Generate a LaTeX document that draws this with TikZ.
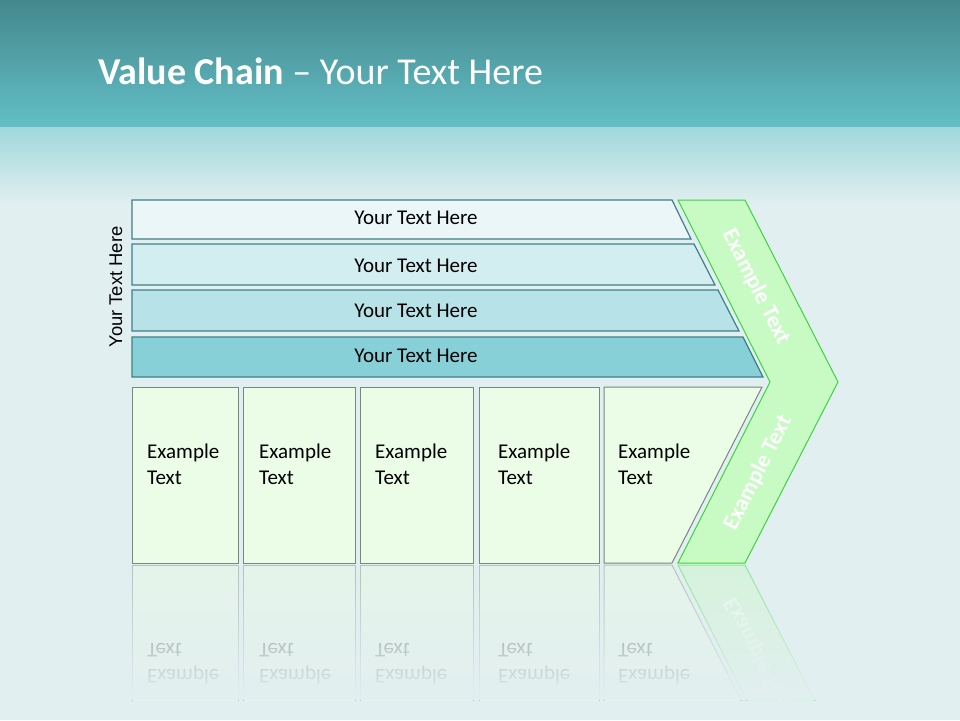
\documentclass[tikz,border=0pt]{standalone}
\usepackage{fontspec}
\setmainfont{Carlito}
\newfontfamily\arialf{Liberation Sans}
\usetikzlibrary{fadings}
\definecolor{bgA}{RGB}{68,136,140}
\definecolor{bgB}{RGB}{99,191,199}
\definecolor{bgC}{RGB}{160,216,220}
\definecolor{bgD}{RGB}{226,239,240}
\definecolor{barline}{RGB}{62,127,136}
\definecolor{barA}{RGB}{234,246,248}
\definecolor{barB}{RGB}{211,238,241}
\definecolor{barC}{RGB}{183,227,232}
\definecolor{barD}{RGB}{136,208,216}
\definecolor{boxfill}{RGB}{235,253,230}
\definecolor{boxline}{RGB}{122,134,128}
\definecolor{chevfill}{RGB}{200,250,196}
\definecolor{chevline}{RGB}{62,211,62}
\tikzfading[name=reflfade, top color=transparent!100, bottom color=transparent!0]
\newcommand\vcLowerPart[1]{%
  \draw[boxst] (132,387) rectangle (238,563);
  \draw[boxst] (243,387) rectangle (355,563);
  \draw[boxst] (360,387) rectangle (473,563);
  \draw[boxst] (479,387) rectangle (599,563);
  \draw[boxst] (604,387) -- (762,387) -- (672,563) -- (604,563) -- cycle;
  \node[boxtext] (#1b1) at (147,444) {Example\\Text};
  \node[boxtext] (#1b2) at (259,444) {Example\\Text};
  \node[boxtext] (#1b3) at (375,444) {Example\\Text};
  \node[boxtext] (#1b4) at (498,444) {Example\\Text};
  \node[boxtext] (#1b5) at (618,444) {Example\\Text};
  \draw[chevst] (678,200) -- (745,200) -- (838,382) -- (745,563) -- (678,563) -- (770,382) -- cycle;
  \node[chevtext, rotate=-63.2] (#1c1) at (756,287) {Example Text};
  \node[chevtext, rotate=63.2] (#1c2) at (758,473) {Example Text};
}
\begin{document}
\begin{tikzpicture}[x=1pt,y=-1pt,
  barst/.style={draw=barline, line width=1.2pt},
  boxst/.style={draw=boxline, fill=boxfill, line width=1pt},
  chevst/.style={draw=chevline, fill=chevfill, line width=1pt, line join=miter},
  bartext/.style={font=\fontsize{21}{25}\selectfont, text=black, inner sep=0pt},
  boxtext/.style={font=\fontsize{21}{26}\selectfont, text=black, align=left, anchor=north west, inner sep=0pt},
  chevtext/.style={font=\bfseries\fontsize{23}{27}\selectfont, text=white, inner sep=0pt}]
\useasboundingbox (0,0) rectangle (960,720);
% background
\shade[top color=bgA, bottom color=bgB] (0,0) rectangle (960,128);
\shade[top color=bgC, bottom color=bgD] (0,127.5) rectangle (960,205);
\fill[bgD] (0,204.5) rectangle (960,720);
% title
\node[anchor=base west, text=white, inner sep=0pt, font=\fontsize{38}{45}\selectfont] (title) at (98,84) {\textbf{Value Chain} – Your Text Here};
% side label
\node[rotate=90, inner sep=0pt, font=\arialf\fontsize{18.4}{22}\selectfont] (side) at (116,287) {Your Text Here};
% bars
\draw[barst, fill=barA] (132,200) -- (672,200) -- (691,239) -- (132,239) -- cycle;
\draw[barst, fill=barB] (132,244) -- (694,244) -- (715,285) -- (132,285) -- cycle;
\draw[barst, fill=barC] (132,290) -- (718,290) -- (739,331) -- (132,331) -- cycle;
\draw[barst, fill=barD] (132,337) -- (743,337) -- (763,377) -- (132,377) -- cycle;
\node[bartext] (t1) at (416,218) {Your Text Here};
\node[bartext] (t2) at (416,266) {Your Text Here};
\node[bartext] (t3) at (416,311) {Your Text Here};
\node[bartext] (t4) at (416,356) {Your Text Here};
% lower part
\vcLowerPart{m}
% reflection
\begin{scope}
\clip (0,564.5) rectangle (960,700);
\begin{scope}[shift={(0,1128)}, yscale=-1, transform shape, opacity=0.45]
\vcLowerPart{r}
\end{scope}
\end{scope}
\fill[bgD, path fading=reflfade] (0,565) rectangle (960,700);
\end{tikzpicture}
\end{document}
